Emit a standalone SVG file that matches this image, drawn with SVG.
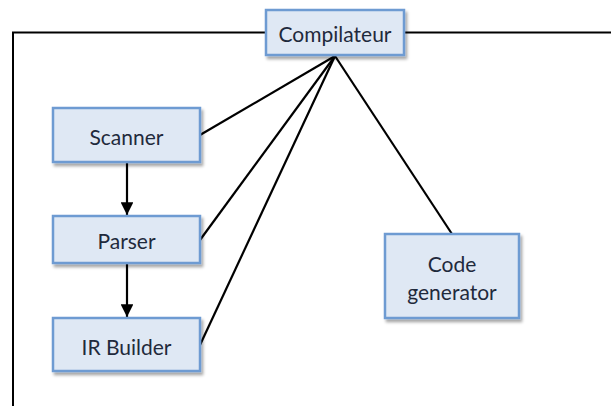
<svg xmlns="http://www.w3.org/2000/svg" width="611" height="406" viewBox="0 0 611 406">
  <style>
    .box { fill: #dfe8f4; stroke: #6e9bd2; stroke-width: 2.5; filter: url(#shadow); }
    .label { font-family: Lato, "Liberation Sans", sans-serif; font-size: 21px; fill: #1f2a3c; text-anchor: middle; }
    .frame { fill: none; stroke: #000; stroke-width: 2; }
    .link { stroke: #000; stroke-width: 2.2; fill: none; }
    .flow { stroke: #000; stroke-width: 2.2; fill: none; marker-end: url(#arrow); }
  </style>
  <defs>
    <filter id="shadow" x="-10%" y="-10%" width="130%" height="140%">
      <feDropShadow dx="2" dy="3" stdDeviation="1.8" flood-color="#000" flood-opacity="0.35"/>
    </filter>
    <marker id="arrow" viewBox="0 0 10 10" refX="10" refY="5" markerWidth="5.8" markerHeight="5.8" orient="auto" markerUnits="strokeWidth">
      <path d="M0,0 L10,5 L0,10 z" fill="#000"/>
    </marker>
  </defs>

  <rect width="611" height="406" fill="#fff"/>

  <!-- outer frame: top rule and left rule -->
  <path class="frame" d="M13,406 V32.5 H611"/>

  <g id="connectors">
    <line class="link" x1="335" y1="56" x2="200" y2="135"/>
    <line class="link" x1="335" y1="56" x2="200" y2="240"/>
    <line class="link" x1="335" y1="56" x2="200" y2="345"/>
    <line class="link" x1="335" y1="56" x2="452" y2="234"/>
    <line class="flow" x1="127" y1="162" x2="127" y2="215"/>
    <line class="flow" x1="127" y1="264" x2="127" y2="317"/>
  </g>

  <g id="compilateur">
    <rect class="box" x="266" y="10" width="138" height="45"/>
    <text class="label" x="335" y="42">Compilateur</text>
  </g>

  <g id="scanner">
    <rect class="box" x="53" y="108" width="147" height="54"/>
    <text class="label" x="126.5" y="145">Scanner</text>
  </g>

  <g id="parser">
    <rect class="box" x="53" y="216" width="147" height="47"/>
    <text class="label" x="126.5" y="249">Parser</text>
  </g>

  <g id="ir-builder">
    <rect class="box" x="53" y="318" width="147" height="53"/>
    <text class="label" x="126.5" y="355">IR Builder</text>
  </g>

  <g id="code-generator">
    <rect class="box" x="385" y="234" width="134" height="84"/>
    <text class="label" x="452" y="272">Code</text>
    <text class="label" x="452" y="300">generator</text>
  </g>
</svg>
